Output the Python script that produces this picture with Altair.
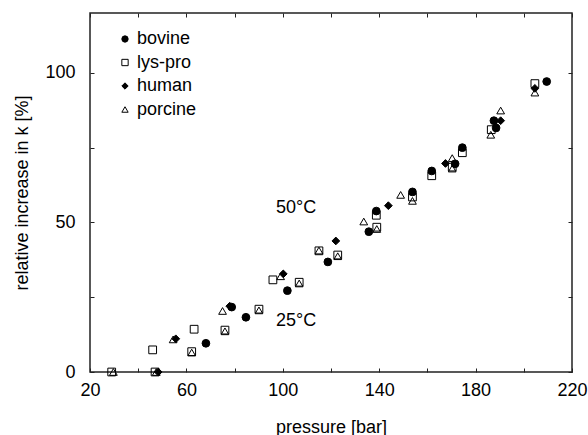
import altair as alt
import pandas as pd

series_names = ["bovine", "lys-pro", "human", "porcine"]

bovine_x = [68.1, 78.8, 84.7, 101.9, 118.7, 135.7, 138.8, 153.8, 161.8, 171.5, 174.5, 187.6, 188.5, 209.5]
bovine_y = [9.6, 21.7, 18.3, 27.2, 36.8, 46.9, 53.8, 60.2, 67.2, 69.6, 75.0, 84.0, 81.6, 97.1]

lys_x = [29.0, 47.0, 46.0, 62.2, 63.2, 76.0, 90.1, 95.9, 106.8, 115.0, 122.8, 139.0, 138.8, 153.8, 161.8, 170.3, 174.5, 186.5, 204.6]
lys_y = [0.0, 0.0, 7.4, 6.8, 14.3, 14.0, 21.0, 30.8, 30.0, 40.5, 39.1, 48.4, 52.4, 58.5, 65.6, 68.5, 73.3, 81.0, 96.4]

human_x = [48.3, 55.6, 78.0, 100.2, 122.0, 143.8, 167.5, 190.4, 204.6]
human_y = [0.0, 11.1, 22.0, 32.8, 43.8, 55.6, 69.7, 84.0, 94.8]

porcine_x = [29.7, 47.5, 54.5, 62.2, 75.0, 76.0, 90.1, 99.1, 106.8, 115.0, 122.8, 133.6, 139.0, 148.9, 153.8, 170.3, 170.3, 186.3, 190.4, 204.6]
porcine_y = [0.0, 0.0, 10.9, 6.5, 20.4, 13.6, 20.6, 32.0, 29.6, 40.6, 38.7, 50.3, 47.8, 59.2, 57.2, 71.5, 68.0, 79.3, 87.4, 93.4]

ann_text = ["50\u00b0C", "25\u00b0C"]
ann_x = [97.2, 97.2]
ann_y = [54.8, 17.0]

x_ticks = [20, 40, 60, 80, 100, 120, 140, 160, 180, 200, 220]
y_ticks = [0, 25, 50, 75, 100]

rows = []
for name, xs, ys in zip(series_names, [bovine_x, lys_x, human_x, porcine_x],
                        [bovine_y, lys_y, human_y, porcine_y]):
    for xv, yv in zip(xs, ys):
        rows.append({"series": name, "pressure": xv, "increase": yv})
df = pd.DataFrame(rows)
ann = pd.DataFrame({"label": ann_text, "ax": ann_x, "ay": ann_y})

FONT = "Liberation Sans"
x_scale = alt.Scale(domain=[20, 220], nice=False, zero=False)
y_scale = alt.Scale(domain=[0, 120], nice=False, zero=False)
tick_in = {"expr": "-4"}

legend = alt.Legend(
    title=None, orient="none", legendX=26, legendY=17, padding=0,
    labelFont=FONT, labelFontSize=18, labelColor="black", labelOffset=3,
    symbolSize=40, symbolStrokeWidth=1, rowPadding=5.5,
)

points = alt.Chart(df).mark_point(
    filled=True, size=60, strokeWidth=1, opacity=1
).encode(
    x=alt.X("pressure:Q", scale=x_scale, axis=alt.Axis(
        orient="bottom", values=x_ticks, tickSize=tick_in, labelFlush=False,
        labelExpr="datum.value % 40 == 20 ? datum.label : ''",
        labelPadding=13, title="pressure [bar]", titleY=55, titleBaseline="middle")),
    y=alt.Y("increase:Q", scale=y_scale, axis=alt.Axis(
        orient="left", values=y_ticks, tickSize=tick_in, labelFlush=False,
        labelExpr="datum.value % 50 == 0 ? datum.label : ''",
        labelPadding=19, title="relative increase in k [%]",
        titleX=-68, titleY=179.5, titleBaseline="middle")),
    shape=alt.Shape("series:N", scale=alt.Scale(
        domain=series_names, range=["circle", "square", "diamond", "triangle-up"]), legend=legend),
    fill=alt.Fill("series:N", scale=alt.Scale(
        domain=series_names, range=["black", "transparent", "black", "transparent"]), legend=legend),
    stroke=alt.Stroke("series:N", scale=alt.Scale(
        domain=series_names, range=["black", "black", "black", "black"]), legend=legend),
    order=alt.value(0),
)

texts = alt.Chart(ann).mark_text(
    align="left", baseline="middle", font=FONT, fontSize=18, color="black"
).encode(
    x=alt.X("ax:Q", scale=x_scale, axis=alt.Axis(
        orient="top", values=x_ticks, tickSize=tick_in, labels=False, title=None)),
    y=alt.Y("ay:Q", scale=y_scale, axis=alt.Axis(
        orient="right", values=y_ticks, tickSize=tick_in, labels=False, title=None)),
    text="label:N",
)

chart = alt.layer(points, texts).resolve_axis(
    x="independent", y="independent"
).properties(
    width=482, height=359,
    autosize=alt.AutoSizeParams(type="none"),
    padding={"left": 90, "top": 13, "right": 16, "bottom": 63},
).configure_view(
    stroke="#222222", strokeWidth=1.5
).configure_axis(
    domain=False, grid=False, tickColor="#222222", tickWidth=1,
    labelFont=FONT, labelFontSize=18, labelColor="black",
    titleFont=FONT, titleFontSize=18, titleColor="black", titleFontWeight="normal",
)

chart.save("out.html", embed_options={"renderer": "svg", "actions": False})
